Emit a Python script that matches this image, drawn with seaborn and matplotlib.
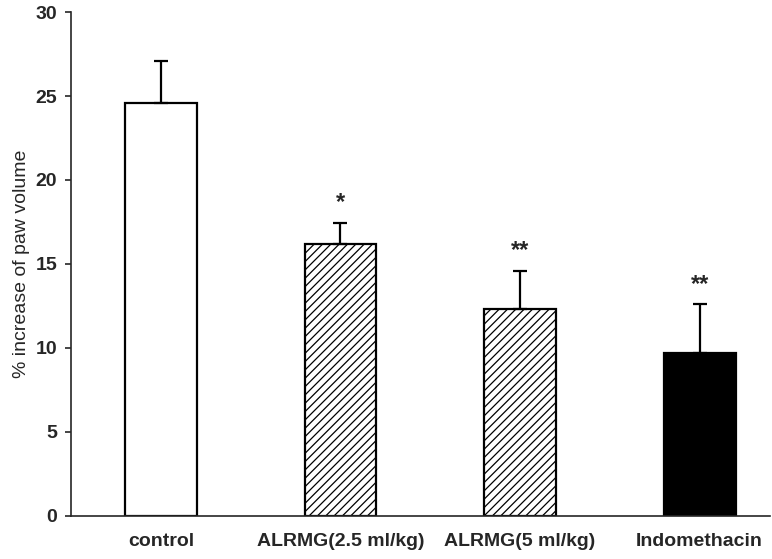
import pandas as pd
import numpy as np
import matplotlib
matplotlib.use("Agg")
import matplotlib.pyplot as plt
import seaborn as sns

# values
groups = ["control", "ALRMG(2.5 ml/kg)", "ALRMG(5 ml/kg)", "Indomethacin"]
means = [24.6, 16.2, 12.3, 9.7]
sems = [2.5, 1.25, 2.3, 2.9]
marks = ["", "*", "**", "**"]

face_colors = ["white", "white", "white", "black"]
hatches = ["", "////", "////", ""]

sns.set_style("ticks")
plt.rcParams["font.family"] = ["Liberation Sans", "DejaVu Sans"]
plt.rcParams["hatch.linewidth"] = 0.9

df = pd.DataFrame({"group": groups, "value": means})

fig = plt.figure(figsize=(7.72, 5.59), dpi=100)
ax = fig.add_axes([0.092, 0.077, 0.905, 0.9015])

sns.barplot(data=df, x="group", y="value", color="white", edgecolor="black",
            linewidth=1.6, width=0.4, errorbar=None, ax=ax)

for patch, fc, h in zip(ax.patches, face_colors, hatches):
    patch.set_facecolor(fc)
    patch.set_hatch(h)

x = np.arange(len(groups))
ax.errorbar(x, means, yerr=[np.zeros(len(sems)), sems], fmt="none",
            ecolor="black", elinewidth=1.6, capsize=5, capthick=1.6, zorder=1)

# significance marks above the error bars
for xi, m, s, lab in zip(x, means, sems, marks):
    if lab:
        ax.text(xi, m + s + 0.5, lab, ha="center", va="bottom",
                fontsize=17, fontweight="bold")

ax.set_xlim(-0.5, 3.39)
ax.set_ylim(0, 30)
ax.set_yticks([0, 5, 10, 15, 20, 25, 30])
ax.set_xlabel("")
ax.set_ylabel("% increase of paw volume", fontsize=14, labelpad=4)

ax.tick_params(axis="y", length=4, width=1.2, pad=6, labelsize=14)
ax.tick_params(axis="x", length=0, pad=12, labelsize=14)
for lbl in ax.get_xticklabels() + ax.get_yticklabels():
    lbl.set_fontweight("bold")

sns.despine(ax=ax)
ax.spines["left"].set_linewidth(1.2)
ax.spines["bottom"].set_linewidth(1.2)

fig.savefig("out.png", dpi=100)
